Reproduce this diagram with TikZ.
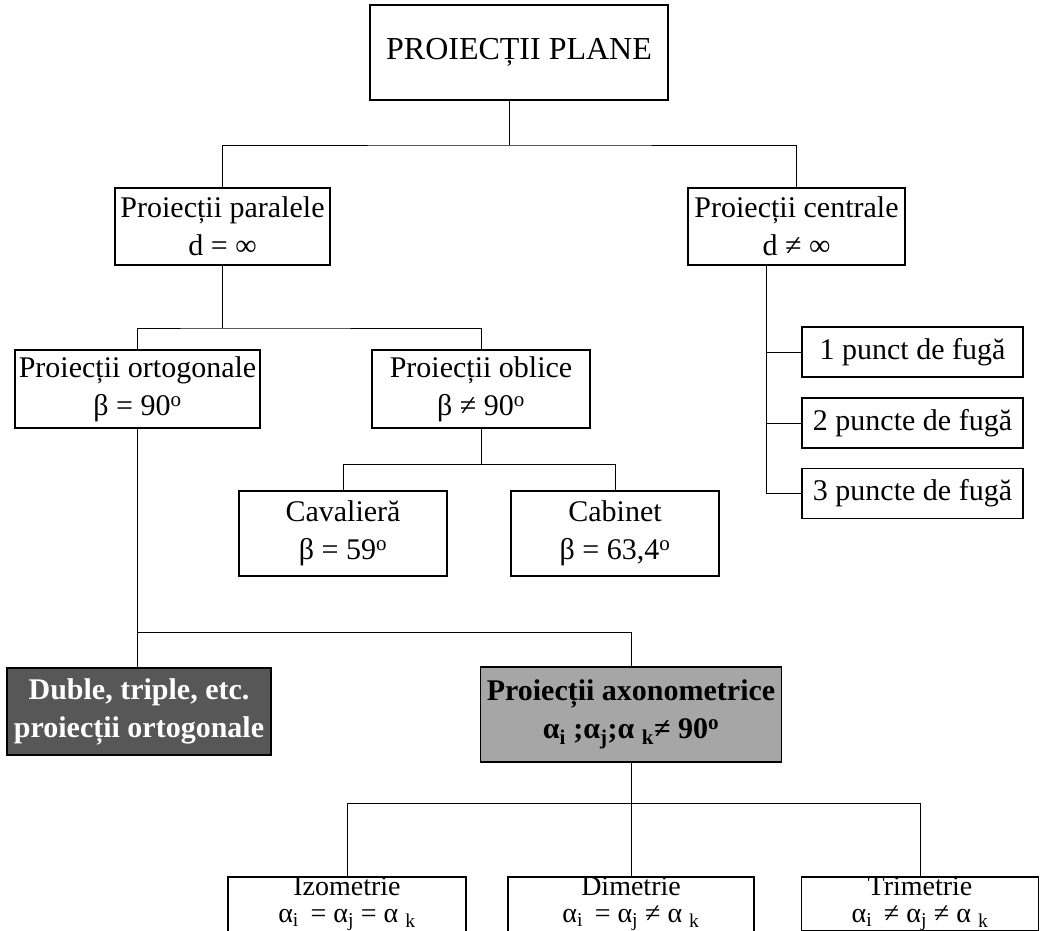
\documentclass[tikz,border=0pt]{standalone}
\usepackage{fontspec}
\setmainfont{Liberation Serif}

\tikzset{
  box/.style={draw, line width=1.5pt, align=center, inner sep=0pt,
    font=\fontsize{30}{38}\selectfont},
  link/.style={line width=0.9pt},
  lowbox/.style={box, anchor=north, inner ysep=0pt, font=\fontsize{28}{27}\selectfont},
  openbox/.style={lowbox, text depth=40pt}
}

\begin{document}
\begin{tikzpicture}[x=1pt,y=-1pt]
  \useasboundingbox[fill=white] (0,0) rectangle (1043,930);

  \node[box, minimum width=298pt, minimum height=95pt, font=\fontsize{32}{38}\selectfont]
    (plane) at (519,52.5) {PROIECȚII PLANE};

  \node[box, minimum width=215pt, minimum height=77pt] (par) at (222.5,226.5)
    {Proiecții paralele\\ d = ∞};
  \node[box, minimum width=217pt, minimum height=77pt] (cen) at (796.5,226.5)
    {Proiecții centrale\\ d ≠ ∞};

  \node[box, minimum width=245pt, minimum height=78pt] (ort) at (137.5,389)
    {Proiecții ortogonale\\ β = 90\textsuperscript{o}};
  \node[box, minimum width=218pt, minimum height=78pt] (obl) at (481,389)
    {Proiecții oblice\\ β ≠ 90\textsuperscript{o}};

  \node[box, minimum width=208pt, minimum height=85pt] (cav) at (343,533.5)
    {Cavalieră\\ β = 59\textsuperscript{o}};
  \node[box, minimum width=208pt, minimum height=85pt] (cab) at (615,533.5)
    {Cabinet\\ β = 63,4\textsuperscript{o}};

  \node[box, minimum width=221pt, minimum height=50pt] (fuga1) at (912.5,352) {1 punct de fugă};
  \node[box, minimum width=221pt, minimum height=50pt] (fuga2) at (912.5,423) {2 puncte de fugă};
  \node[box, minimum width=221pt, minimum height=50pt] (fuga3) at (912.5,493.5) {3 puncte de fugă};

  \node[box, minimum width=264pt, minimum height=87pt, fill={rgb,255:red,87;green,87;blue,87},
    text=white, font=\fontsize{30}{38}\selectfont\bfseries] (dub) at (139,711.5)
    {Duble, triple, etc.\\ proiecții ortogonale};
  \node[box, minimum width=301pt, minimum height=95pt, fill={rgb,255:red,166;green,166;blue,166},
    font=\fontsize{30}{38}\selectfont\bfseries] (axo) at (631,714.5)
    {Proiecții axonometrice\\ α\textsubscript{i} ;α\textsubscript{j};α \textsubscript{k}≠ 90\textsuperscript{o}};

  \node[openbox, minimum width=238pt] (izo) at (347,876)
    {Izometrie\\ α\textsubscript{i} \,= α\textsubscript{j} = α \textsubscript{k}};
  \node[openbox, minimum width=246pt] (dim) at (631,876)
    {Dimetrie\\ α\textsubscript{i} \,= α\textsubscript{j} ≠ α \textsubscript{k}};
  \node[lowbox, minimum width=237pt] (tri) at (920,876)
    {Trimetrie\\ α\textsubscript{i} \,≠ α\textsubscript{j} ≠ α \textsubscript{k}};

  \coordinate (j1) at (509.5,145);
  \coordinate (j2) at (222.5,328);
  \coordinate (j3) at (481,464);
  \coordinate (j4) at (137.5,632);
  \coordinate (j5) at (631,803);
  \coordinate (cb) at (766,493.5);

  \draw[link] (plane.south -| j1) -- (j1);
  \draw[link] (par.north) |- (j1) -| (cen.north);
  \draw[link] (par.south) -- (j2);
  \draw[link] (ort.north) |- (j2) -| (obl.north);
  \draw[link] (obl.south) -- (j3);
  \draw[link] (cav.north) |- (j3) -| (cab.north);
  \draw[link] (cen.south -| cb) -- (cb);
  \foreach \n in {fuga1,fuga2,fuga3}
    \draw[link] (cb |- \n.west) -- (\n.west);
  \draw[link] (ort.south) -- (ort.south |- dub.north);
  \draw[link] (j4) -| (axo.north);
  \draw[link] (axo.south) -- (j5);
  \draw[link] (izo.north) |- (j5) -| (tri.north);
  \draw[link] (j5) -- (dim.north);
\end{tikzpicture}
\end{document}
